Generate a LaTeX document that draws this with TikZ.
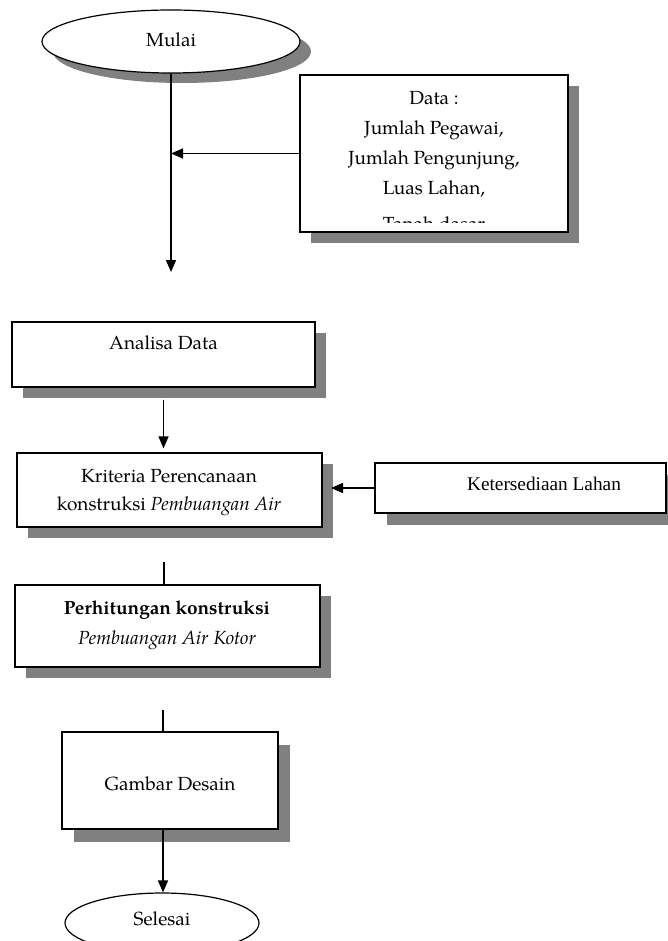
\documentclass[tikz,border=0pt]{standalone}
\usepackage{fontspec}
\setmainfont{TeX Gyre Pagella}
\newfontfamily\timesf{Liberation Serif}
\usetikzlibrary{shapes.geometric,arrows.meta,shadows,calc}
\definecolor{shd}{RGB}{128,128,128}
\begin{document}
\begin{tikzpicture}[x=1pt,y=-1pt, font=\fontsize{19}{29}\selectfont,
  box/.style={draw, line width=1.2pt, fill=white, inner sep=0pt, rectangle},
  shbox/.style={box, drop shadow={shadow xshift=11pt, shadow yshift=-11pt, fill=shd, opacity=1}},
  oval/.style={ellipse, draw, line width=1.2pt, fill=white, inner sep=0pt},
  txt/.style={anchor=mid, inner sep=0pt},
  arr/.style={line width=1.4pt, -{Triangle[length=12pt,width=10pt]}},
  ln/.style={line width=1.4pt}]
\useasboundingbox[fill=white] (0,0) rectangle (667,941);

% Mulai
\node[oval, minimum width=258pt, minimum height=63pt,
  drop shadow={shadow xshift=11pt, shadow yshift=-10pt, fill=shd, opacity=1}] (mulai) at (171,41.5) {};
\node[txt] (tmulai) at (171,44) {Mulai};

% Data box
\node[shbox, minimum width=268pt, minimum height=157pt] (data) at (434,153.5) {};
\begin{scope}
\clip (301,76) rectangle (567,223);
\node[txt] (d1) at (434,102) {Data :};
\node[txt] (d2) at (434,132) {Jumlah Pegawai,};
\node[txt] (d3) at (434,162) {Jumlah Pengunjung,};
\node[txt] (d4) at (434,192) {Luas Lahan,};
\node[txt] (d5) at (434,228) {Tanah dasar};
\end{scope}

% Analisa Data
\node[shbox, minimum width=303pt, minimum height=65pt] (anal) at (163.5,354.5) {};
\node[txt] (tanal) at (163.5,347) {Analisa Data};

% Kriteria
\node[shbox, minimum width=305pt, minimum height=74pt] (krit) at (169.5,490) {};
\node[txt] (tk1) at (169,480) {Kriteria Perencanaan};
\node[txt] (tk2) at (169,508) {konstruksi \textit{Pembuangan Air}};

% Ketersediaan Lahan
\node[box, minimum width=291pt, minimum height=50pt,
  drop shadow={shadow xshift=12pt, shadow yshift=-12pt, fill=shd, opacity=1}] (keter) at (520.5,488) {};
\node[txt, font=\timesf\fontsize{19.3}{22}\selectfont] (tketer) at (544,488) {Ketersediaan Lahan};

% Perhitungan
\node[shbox, minimum width=305pt, minimum height=82pt] (perh) at (167.5,626) {};
\node[txt] (tp1) at (167,612) {\textbf{Perhitungan konstruksi}};
\node[txt] (tp2) at (167,642) {\textit{Pembuangan Air Kotor}};

% Gambar Desain
\node[box, minimum width=216pt, minimum height=97pt, drop shadow={shadow xshift=12pt, shadow yshift=-13pt, fill=shd, opacity=1}] (gamb) at (170,780.5) {};
\node[txt] (tgamb) at (170,788) {Gambar Desain};

% Selesai
\node[oval, minimum width=194pt, minimum height=60pt] (sel) at (162,923) {};
\node[txt] (tsel) at (162,923) {Selesai};

% connectors
\coordinate (m1) at (171,272);
\draw[arr] (mulai.south) -- (m1);
\draw[arr] (data.west) -- (data.west -| m1);
\draw[arr, shorten >=4pt] ([yshift=-12pt]anal.south) -- (anal.south |- krit.north);
\coordinate (kin) at (331,488);
\draw[arr] (keter.west) -- (kin);
\coordinate (s1) at (164,562);
\draw[ln] (s1) -- (s1 |- perh.north);
\coordinate (s2) at (163,710);
\draw[ln] (s2) -- (s2 |- gamb.north);
\draw[arr] (s2 |- gamb.south) -- (s2 |- sel.north);
\end{tikzpicture}
\end{document}
